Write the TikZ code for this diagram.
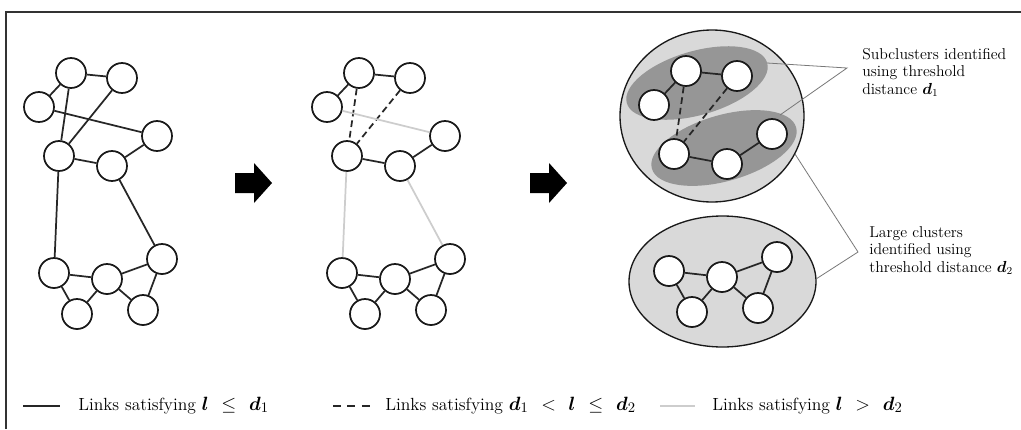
\documentclass[tikz,border=0pt]{standalone}
\usepackage{bm}
\definecolor{clusterlight}{RGB}{217,217,217}
\definecolor{clusterdark}{RGB}{150,150,150}
\definecolor{farlink}{RGB}{205,205,205}
\definecolor{leader}{RGB}{120,120,120}

% the eleven vertices of one network, named #1a ... #1k
\newcommand{\placeverts}[1]{%
  \foreach \n/\px/\py in {a/71/73, b/122/78, c/39/107, d/157/136, e/59/156,
                          f/112/166, g/162/259, h/54/273, i/107/279, j/77/314, k/143/310}
    {\node[vtx] (#1\n) at (\px,\py) {};}}
% relation with wide spacing, as set in the legend
\newcommand{\wrel}[1]{\mskip 7mu #1\mskip 7mu}
\newcommand{\legmath}[1]{{\fontsize{15}{15}\selectfont$#1$}}

\begin{document}
\begin{tikzpicture}[x=0.75pt,y=-0.75pt,
  vtx/.style={circle,draw=black!90,fill=white,line width=1.3pt,minimum size=22.5pt,inner sep=0pt},
  near/.style={draw=black!85,line width=1.3pt},
  mid/.style={draw=black!85,line width=1.3pt,dash pattern=on 5pt off 3pt},
  far/.style={draw=farlink,line width=1.3pt},
  lead/.style={draw=leader,line width=0.6pt},
  txt/.style={font=\fontsize{11.8}{13.1}\selectfont,align=left,inner sep=0pt,anchor=north west},
  legtxt/.style={font=\fontsize{13.2}{15}\selectfont,anchor=base west,inner sep=0pt},
  bigarrow/.style={fill=black}]

\useasboundingbox (0,0) rectangle (1021,429);
\fill[white] (0,0) rectangle (1021,429);
\draw[line width=1.2pt,black!80] (6,429) -- (6,12) -- (1021,12);

% ---- first network: all links
\placeverts{p}
\foreach \u/\v in {a/b, a/c, a/e, b/e, c/d, e/f, f/d, e/h, f/g,
                   h/i, i/g, h/j, j/i, i/k, k/g}
  \draw[near] (p\u) -- (p\v);

% ---- second network: links by class
\begin{scope}[shift={(288,0)}]
\placeverts{q}
\end{scope}
\foreach \u/\v in {a/b, a/c, e/f, f/d, h/i, i/g, h/j, j/i, i/k, k/g}
  \draw[near] (q\u) -- (q\v);
\foreach \u/\v in {a/e, b/e}
  \draw[mid] (q\u) -- (q\v);
\foreach \u/\v in {c/d, e/h, f/g}
  \draw[far] (q\u) -- (q\v);

% ---- arrows between the stages
\fill[bigarrow] (235,173) -- (254,173) -- (254,163) -- (272,183) -- (254,203) -- (254,193) -- (235,193) -- cycle;
\fill[bigarrow] (530,173) -- (549,173) -- (549,163) -- (567,183) -- (549,203) -- (549,193) -- (530,193) -- cycle;

% ---- third network: clusters
\filldraw[fill=clusterlight,draw=black!90,line width=1pt] (712,116) ellipse [x radius=92,y radius=86];
\filldraw[fill=clusterlight,draw=black!90,line width=1pt] (722.5,281.5) ellipse [x radius=93.5,y radius=65.5];
\begin{scope}[shift={(697,83)},rotate=16]
  \fill[clusterdark] (0,0) ellipse [x radius=73,y radius=32];
\end{scope}
\begin{scope}[shift={(724,148)},rotate=16]
  \fill[clusterdark] (0,0) ellipse [x radius=75,y radius=33];
\end{scope}

\begin{scope}[shift={(615,-2)}]
\placeverts{r}
\end{scope}
\foreach \u/\v in {a/b, a/c, e/f, f/d, h/i, i/g, h/j, j/i, i/k, k/g}
  \draw[near] (r\u) -- (r\v);
\foreach \u/\v in {a/e, b/e}
  \draw[mid] (r\u) -- (r\v);

% ---- annotations
\coordinate (sub1) at (767,63);
\coordinate (sub2) at (780,115);
\coordinate (big1) at (795,154);
\coordinate (big2) at (816,279);
\coordinate (j1) at (847,68);
\coordinate (j2) at (858,252);
\draw[lead] (sub1) -- (j1) -- (sub2);
\draw[lead] (big1) -- (j2) -- (big2);

\node[txt] (subtxt) at (862,48) {Subclusters identified\\using threshold\\distance $\bm{d}_1$};
\node[txt] (bigtxt) at (869,226) {Large clusters\\identified using\\threshold distance $\bm{d}_2$};

% ---- legend
\coordinate (k1a) at (23,406);  \coordinate (k1b) at (60,406);
\coordinate (k2a) at (333,406); \coordinate (k2b) at (370,406);
\coordinate (k3a) at (660,406); \coordinate (k3b) at (695,406);
\draw[black!85,line width=1.6pt] (k1a) -- (k1b);
\draw[black!85,line width=1.6pt,dash pattern=on 6pt off 4.8pt] (k2a) -- (k2b);
\draw[farlink,line width=2pt] (k3a) -- (k3b);
\node[legtxt] (leg1) at (78,410) {Links satisfying \legmath{\bm{l}\wrel{\le}\bm{d}_1}};
\node[legtxt] (leg2) at (385,410) {Links satisfying \legmath{\bm{d}_1\wrel{<}\bm{l}\wrel{\le}\bm{d}_2}};
\node[legtxt] (leg3) at (712,410) {Links satisfying \legmath{\bm{l}\wrel{>}\bm{d}_2}};
\end{tikzpicture}
\end{document}
